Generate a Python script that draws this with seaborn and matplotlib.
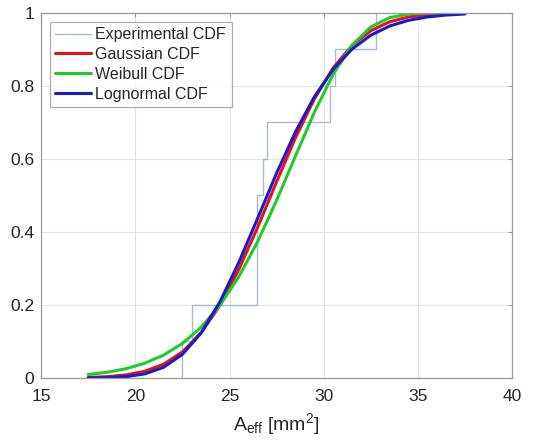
import numpy as np
import pandas as pd
import matplotlib
matplotlib.use("Agg")
import matplotlib.pyplot as plt
import seaborn as sns

a_eff_samples = [22.5, 23.0, 26.45, 26.45, 26.45, 26.8, 27.0, 30.35, 30.6, 32.8]

# grid of A_eff values where the fitted curves were read
a_grid = [17.5, 18.5, 19.5, 20.5, 21.5, 22.5, 23.5, 24.5, 25.5, 26.5, 27.5,
          28.5, 29.5, 30.5, 31.5, 32.5, 33.5, 34.5, 35.5, 36.5, 37.5]

gauss_cdf = [0.0012, 0.0033, 0.0081, 0.0181, 0.0375, 0.0710, 0.1238, 0.1994,
             0.2977, 0.4134, 0.5373, 0.6577, 0.7639, 0.8488, 0.9105, 0.9512,
             0.9755, 0.9887, 0.9953, 0.9982, 0.9994]
weibull_cdf = [0.0091, 0.0153, 0.0251, 0.0401, 0.0623, 0.0943, 0.1390, 0.1995,
               0.2777, 0.3741, 0.4865, 0.6077, 0.7271, 0.8317, 0.9112, 0.9615,
               0.9870, 0.9968, 0.9995, 0.99995, 1.0]
lognorm_cdf = [0.0002, 0.0008, 0.0033, 0.0109, 0.0289, 0.0644, 0.1237, 0.2092,
               0.3170, 0.4380, 0.5608, 0.6740, 0.7697, 0.8452, 0.9006, 0.9388,
               0.9639, 0.9795, 0.9887, 0.9940, 0.9969]

x_ticks = [15, 20, 25, 30, 35, 40]
y_ticks = [0, 0.2, 0.4, 0.6, 0.8, 1]
y_tick_labels = ["0", "0.2", "0.4", "0.6", "0.8", "1"]

sns.set_style("white")
plt.rcParams['font.family'] = ['Liberation Sans', 'DejaVu Sans']
plt.rcParams['mathtext.fontset'] = 'custom'
plt.rcParams['mathtext.rm'] = 'Liberation Sans'
plt.rcParams['mathtext.it'] = 'Liberation Sans:italic'

fig = plt.figure(figsize=(5.34, 4.43), dpi=100)
ax = fig.add_axes([0.077, 0.147, 0.882, 0.824])

# experimental step CDF
sns.ecdfplot(x=a_eff_samples, ax=ax, color='#a9bccb', linewidth=1.0,
             label='Experimental CDF')

fits = pd.DataFrame({'A': a_grid, 'Gaussian CDF': gauss_cdf,
                     'Weibull CDF': weibull_cdf, 'Lognormal CDF': lognorm_cdf})
colors = {'Gaussian CDF': '#e8111a', 'Weibull CDF': '#1fcc24', 'Lognormal CDF': '#1a1acc'}
for name in ['Gaussian CDF', 'Weibull CDF', 'Lognormal CDF']:
    sns.lineplot(data=fits, x='A', y=name, ax=ax, color=colors[name],
                 linewidth=2.2, label=name)

ax.set_xlim(15, 40)
ax.set_ylim(0, 1)
ax.set_xticks(x_ticks)
ax.set_yticks(y_ticks)
ax.set_yticklabels(y_tick_labels)
ax.set_xlabel(r'A$_{\mathrm{eff}}$ [mm$^2$]', fontsize=14, labelpad=5)
ax.set_ylabel('')

# matlab look: box, inward ticks, faint grid
ax.grid(True, color='#e4e4e4', linewidth=0.8)
ax.set_axisbelow(True)
for sp in ax.spines.values():
    sp.set_color('#9a9a9a')
    sp.set_linewidth(0.9)
ax.tick_params(direction='in', length=3, top=True, right=True,
               color='#9a9a9a', labelsize=12.5)
ax.tick_params(axis='x', pad=8)
ax.tick_params(axis='y', pad=5)

leg = ax.legend(loc='upper left', fontsize=11.5, frameon=True, fancybox=False,
                edgecolor='#9a9a9a', handlelength=2.2, handletextpad=0.3,
                borderpad=0.35, labelspacing=0.3, borderaxespad=0.55)
leg.get_frame().set_linewidth(0.9)

fig.savefig('out.png', dpi=100)
